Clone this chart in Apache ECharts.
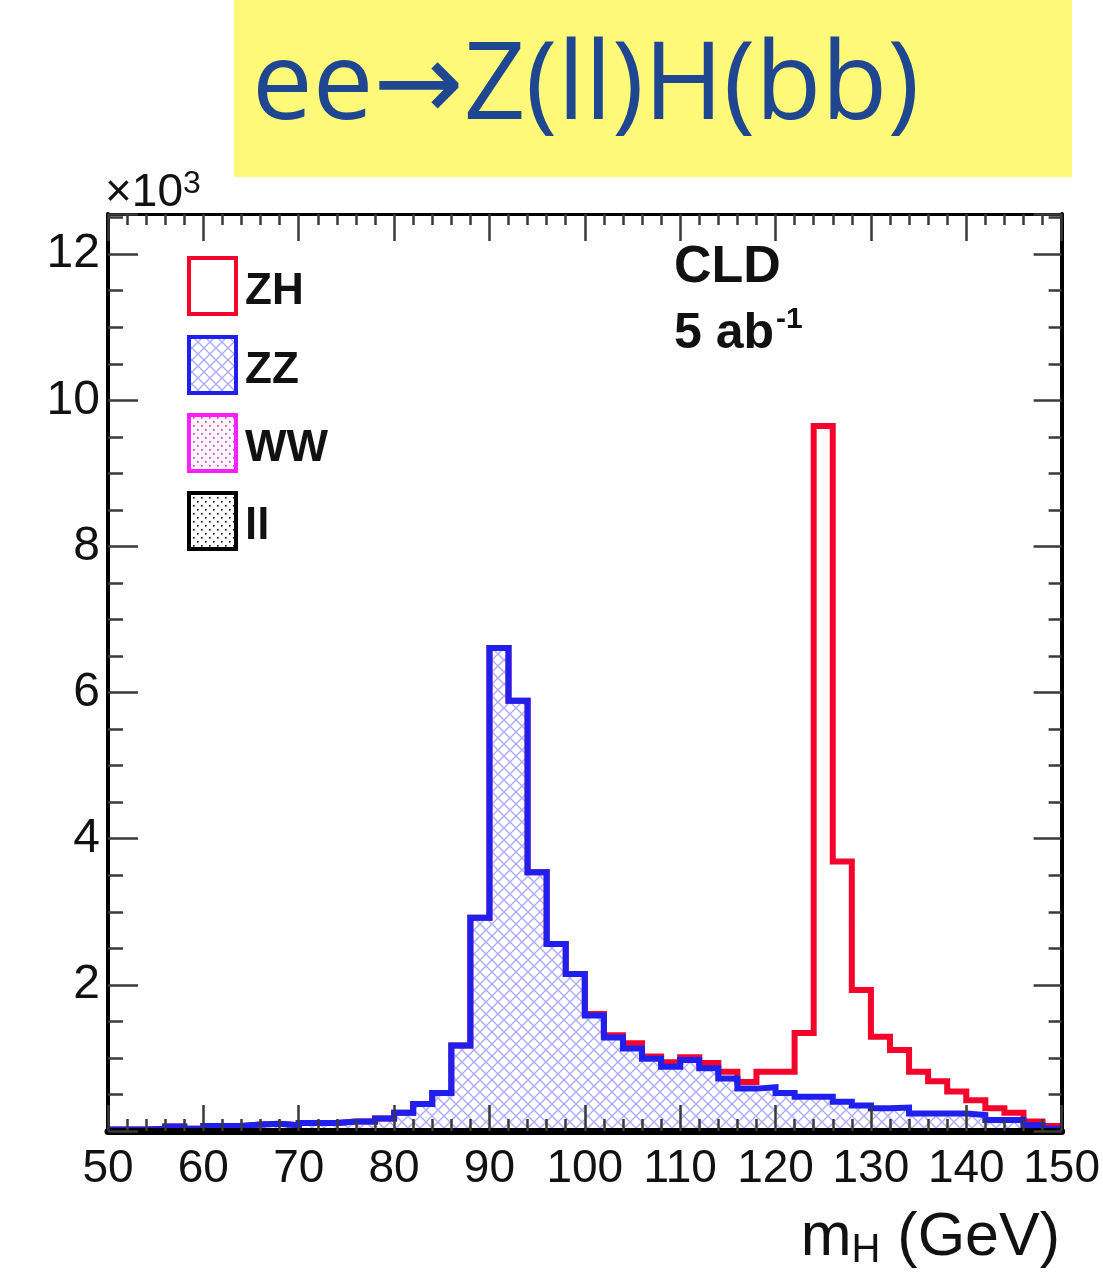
<!DOCTYPE html>
<html><head><meta charset="utf-8">
<script src="https://cdn.jsdelivr.net/npm/echarts@6/dist/echarts.min.js"></script>
<style>html,body{margin:0;padding:0;background:#fff}#c{width:1103px;height:1283px}</style>
</head><body><div id="c"></div>
<script>
// ---- data (values in units of 10^3 events per 2 GeV bin) ----
const binLowEdges = [50,52,54,56,58,60,62,64,66,68,70,72,74,76,78,80,82,84,86,88,90,92,94,96,98,
  100,102,104,106,108,110,112,114,116,118,120,122,124,126,128,130,132,134,136,138,140,142,144,146,148];
const lastEdge = 150;
// background (ZZ + WW + ll stacked, drawn as ZZ)
const zzValues = [0.02,0.02,0.03,0.06,0.03,0.07,0.07,0.09,0.10,0.08,0.11,0.11,0.13,0.13,0.17,0.25,0.37,0.52,1.17,2.92,
  6.61,5.89,3.54,2.56,2.15,1.58,1.28,1.13,0.99,0.88,0.97,0.86,0.72,0.58,0.60,0.52,0.47,0.47,0.40,0.35,
  0.31,0.32,0.24,0.24,0.24,0.22,0.15,0.15,0.08,0.03];
// signal ZH, stacked on top of the background
const zhValues = [0,0,0,0,0,0,0,0,0,0,0,0,0,0,0,0,0,0,0,0,
  0,0,0,0,0,0.02,0.03,0.07,0.03,0.06,0.04,0.07,0.09,0.09,0.21,0.29,0.87,9.18,3.29,1.58,
  0.98,0.79,0.57,0.44,0.30,0.20,0.16,0.10,0.05,0.04];
const legendNames = ['ZH','ZZ','WW','ll'];

// ---- helpers ----
function histPoints(vals){
  const pts = binLowEdges.map((e,i)=>[e, vals[i]]);
  pts.push([lastEdge, vals[vals.length-1]]);
  return pts;
}
const totalValues = zzValues.map((v,i)=>v + zhValues[i]);

function hatchCanvas(color, size){
  const c = document.createElement('canvas');
  c.width = c.height = size;
  const g = c.getContext('2d');
  g.strokeStyle = color; g.lineWidth = 1.4;
  g.beginPath();
  g.moveTo(-1,-1); g.lineTo(size+1,size+1);
  g.moveTo(size+1,-1); g.lineTo(-1,size+1);
  g.stroke();
  return c;
}
function dotCanvas(color, size){
  const c = document.createElement('canvas');
  c.width = c.height = size;
  const g = c.getContext('2d');
  g.fillStyle = '#fff'; g.fillRect(0,0,size,size);
  g.fillStyle = color;
  g.fillRect(1,1,1.6,1.6);
  g.fillRect(1+size/2,1+size/2,1.6,1.6);
  return c;
}
const hatch = {image: hatchCanvas('rgba(70,70,245,0.45)', 12), repeat: 'repeat'};
const dotsMag = {image: dotCanvas('#ff20ff', 8), repeat: 'repeat'};
const dotsBlk = {image: dotCanvas('#000', 8), repeat: 'repeat'};

const RED = '#f3052c', BLUE = '#1f1ff0';
const tickCol = '#3a3a3a';
const LBL = '"Liberation Sans", Arial, sans-serif';
const NARROW = '"Liberation Sans Narrow", "Liberation Sans", sans-serif';

const chart = echarts.init(document.getElementById('c'), null, {renderer:'canvas'});
const xCommon = {type:'value', min:50, max:150, interval:10, z:5,
  splitLine:{show:false}};
const yCommon = {type:'value', min:0, max:12.55, interval:2, z:5, splitLine:{show:false}};

const legendTop = [258, 337, 415, 493];
const legendStroke = [RED, BLUE, '#ff20ff', '#000'];
const legendFill = ['#fff', hatch, dotsMag, dotsBlk];
const graphics = [
  {type:'rect', shape:{x:234,y:0,width:838,height:177}, style:{fill:'#fff97a'}, z:1},
  {type:'text', style:{text:'ee\u2192Z(ll)H(bb)', x:252, y:88, fontSize:108, fontFamily:'"Open Sans", "Noto Sans", "DejaVu Sans", sans-serif',
     fill:'#1f4690', verticalAlign:'middle'}, z:2},
  {type:'text', style:{text:'{a|\u00d710}{b|3}', x:105, y:192, verticalAlign:'middle',
     rich:{a:{fontSize:46, fontFamily:LBL, fill:'#111', verticalAlign:'bottom'},
           b:{fontSize:32, fontFamily:LBL, fill:'#111', verticalAlign:'top', padding:[0,0,16,0]}}}, z:10},
  {type:'text', style:{text:'CLD', x:674, y:268, fontSize:52, fontWeight:'bold', fontFamily:LBL, fill:'#111', verticalAlign:'middle'}, z:10},
  {type:'text', style:{text:'{a|5 ab}{b|-1}', x:674, y:334, verticalAlign:'middle',
     rich:{a:{fontSize:50, fontWeight:'bold', fontFamily:LBL, fill:'#111'},
           b:{fontSize:30, fontWeight:'bold', fontFamily:LBL, fill:'#111', padding:[0,0,28,2]}}}, z:10},
  {type:'text', style:{text:'{a|m}{b|H}{a| (GeV)}', x:1060, y:1238, align:'right', verticalAlign:'middle',
     rich:{a:{fontSize:61, fontFamily:LBL, fill:'#111'},
           b:{fontSize:40, fontFamily:LBL, fill:'#111', padding:[26,0,0,0]}}}, z:10}
];
legendNames.forEach((n,i)=>{
  graphics.push({type:'rect', shape:{x:189,y:legendTop[i],width:47,height:56},
    style:{fill:legendFill[i], stroke:legendStroke[i], lineWidth:4}, z:10});
  graphics.push({type:'text', style:{text:n, x:245, y:legendTop[i]+34, fontSize:44, fontWeight:'bold',
    fontFamily:LBL, fill:'#111', verticalAlign:'middle'}, z:10});
});

chart.setOption({
  animation:false,
  backgroundColor:'#fff',
  grid:{left:108, right:41, top:214, bottom:152, containLabel:false},
  xAxis:[
    Object.assign({}, xCommon, {position:'bottom',
      axisLine:{show:true, onZero:false, lineStyle:{color:'#000', width:7}},
      axisTick:{show:true, inside:true, length:26, lineStyle:{color:tickCol, width:2.5}},
      minorTick:{show:true, splitNumber:5, length:12, lineStyle:{color:tickCol, width:2.5}},
      axisLabel:{show:true, margin:15, fontSize:46, fontFamily:NARROW, color:'#111'}}),
    Object.assign({}, xCommon, {position:'top',
      axisLine:{show:true, onZero:false, lineStyle:{color:'#000', width:3}},
      axisTick:{show:true, inside:true, length:27, lineStyle:{color:tickCol, width:2.5}},
      minorTick:{show:true, splitNumber:5, length:11, lineStyle:{color:tickCol, width:2.5}},
      axisLabel:{show:false}})
  ],
  yAxis:[
    Object.assign({}, yCommon, {position:'left',
      axisLine:{show:true, onZero:false, lineStyle:{color:'#000', width:4}},
      axisTick:{show:true, inside:true, length:30, lineStyle:{color:tickCol, width:2.5}},
      minorTick:{show:true, splitNumber:4, length:15, lineStyle:{color:tickCol, width:2.5}},
      axisLabel:{show:true, margin:8, fontSize:48, fontFamily:LBL, color:'#111',
        formatter:function(v){ return (v>0 && v<=12 && Math.abs(v%2)<1e-6) ? String(Math.round(v)) : ''; }}}),
    Object.assign({}, yCommon, {position:'right',
      axisLine:{show:true, onZero:false, lineStyle:{color:'#000', width:4}},
      axisTick:{show:true, inside:true, length:28, lineStyle:{color:tickCol, width:2.5}},
      minorTick:{show:true, splitNumber:4, length:13, lineStyle:{color:tickCol, width:2.5}},
      axisLabel:{show:false}})
  ],
  series:[
    {name:'ZH', type:'line', step:'end', data:histPoints(totalValues), symbol:'none', z:2,
      lineStyle:{color:RED, width:6, join:'miter'}, itemStyle:{color:RED}, clip:true},
    {name:'ZZ', type:'line', step:'end', data:histPoints(zzValues), symbol:'none', z:3,
      lineStyle:{color:BLUE, width:6, join:'miter'}, itemStyle:{color:BLUE},
      areaStyle:{color:hatch, opacity:1}, clip:true}
  ],
  graphic:graphics
});
</script></body></html>
